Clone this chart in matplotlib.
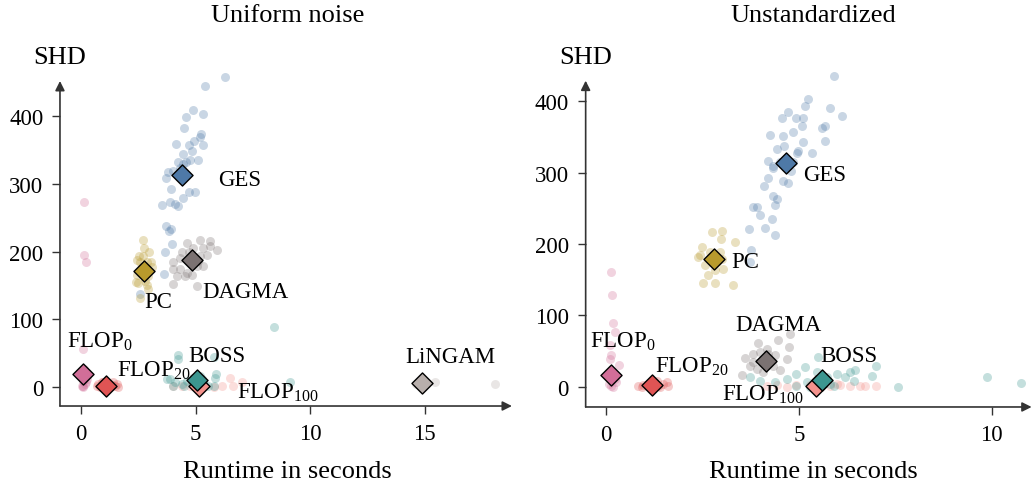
import matplotlib
matplotlib.use("Agg")
import matplotlib.pyplot as plt

plt.rcParams["font.family"] = ["Liberation Serif", "DejaVu Serif"]
plt.rcParams["mathtext.fontset"] = "custom"
plt.rcParams["mathtext.rm"] = "Liberation Serif"

# ---------- 数据：Uniform noise ----------
uni_ges_x = [6.26, 5.39, 4.88, 5.33, 4.56, 4.47, 4.13, 5.24, 5.17, 4.92, 4.70, 5.30, 4.44, 4.85,
             4.21, 4.59, 4.77, 5.11, 3.80, 4.03, 4.32, 4.45, 3.71, 3.94, 4.72, 4.98, 4.45, 3.52,
             3.89, 4.10, 4.25, 3.71, 3.93, 3.83, 3.97, 3.65, 3.61, 2.56]
uni_ges_y = [458, 445, 409, 403, 399, 383, 359, 374, 370, 363, 358, 357, 344, 348,
             333, 333, 335, 335, 318, 319, 323, 329, 309, 293, 288, 288, 279, 269,
             273, 270, 267, 238, 233, 230, 211, 200, 167, 138]
uni_pc_x = [2.72, 2.75, 2.97, 2.43, 2.58, 2.87, 2.65, 3.09, 2.43, 2.94, 2.79, 2.50, 2.87, 2.94,
            2.58, 2.40, 2.72, 2.52, 3.04]
uni_pc_y = [217, 206, 199, 188, 184, 184, 177, 177, 165, 164, 157, 154, 150, 145,
            132, 155, 194, 194, 184]
uni_dagma_x = [5.20, 5.63, 4.61, 4.40, 4.90, 5.34, 5.92, 5.63, 4.32, 5.20, 5.49, 4.03, 4.32, 4.61,
               5.05, 5.34, 4.18, 4.54, 4.83, 4.03, 5.05, 4.00, 4.69, 5.12]
uni_dagma_y = [217, 216, 213, 200, 206, 206, 203, 209, 191, 194, 195, 174, 174, 169,
               179, 179, 164, 164, 165, 152, 149, 184, 199, 186]
uni_flop0_x = [0.15, 0.15, 0.20, 0.10, 0.03, 0.10, 0.17, 0.07, 0.22, 0.13, 0.03, 0.28, 0.10]
uni_flop0_y = [274, 195, 184, 56, 2, 0, 4, 9, 7, 27, 19, 12, 1]
uni_flop20_x = [0.76, 0.90, 1.05, 1.19, 1.34, 1.48, 1.63, 0.83, 1.12, 1.41, 0.97, 1.27, 1.56, 0.69]
uni_flop20_y = [4, 7, 2, 6, 3, 1, 0.5, 0.5, 0, 7, 8, 0, 4, 2]
uni_flop100_x = [6.51, 7.02, 6.65, 6.14, 4.03, 4.40, 4.76, 5.34, 5.05, 5.78]
uni_flop100_y = [13, 7, 1, 1, 1, 1, 1, 1, 4, 0]
uni_boss_x = [4.25, 4.25, 5.78, 5.90, 5.85, 5.20, 3.89, 4.10, 4.40, 4.61, 4.83, 5.05, 5.34, 5.56,
              5.78, 4.03, 3.74, 8.40, 9.13, 5.27, 4.47, 4.90]
uni_boss_y = [47, 41, 44, 19, 14, 17, 12, 7, 4, 9, 7, 2, 7, 2,
              2, 2, 12, 89, 7, 12, 2, 14]
uni_lingam_x = [14.6, 15.46, 18.08]
uni_lingam_y = [5, 7, 4]

# 菱形（中心值）
uni_mean_x = {"GES": 4.42, "PC": 2.76, "DAGMA": 4.86, "FLOP0": 0.10, "FLOP20": 1.09,
              "FLOP100": 5.15, "BOSS": 5.05, "LiNGAM": 14.88}
uni_mean_y = {"GES": 313, "PC": 172, "DAGMA": 188, "FLOP0": 20, "FLOP20": 2,
              "FLOP100": 1, "BOSS": 10, "LiNGAM": 6}

# ---------- 数据：Unstandardized ----------
uns_ges_x = [5.92, 5.23, 5.16, 5.81, 6.11, 4.56, 4.73, 4.94, 5.12, 5.59, 5.68, 5.07, 4.25, 4.60,
             4.86, 5.68, 5.12, 4.43, 4.62, 4.99, 4.96, 5.33, 4.19, 4.34, 4.51, 4.86, 4.79, 4.32,
             4.21, 4.10, 4.60, 4.73, 4.34, 4.43, 4.38, 3.82, 3.92, 3.99, 4.31, 4.12, 4.38, 3.71,
             3.76, 3.73]
uns_ges_y = [436, 404, 394, 391, 380, 377, 385, 377, 377, 362, 365, 366, 353, 351,
             357, 344, 343, 333, 338, 331, 328, 327, 316, 310, 315, 315, 302, 306,
             292, 282, 289, 285, 268, 263, 255, 252, 252, 241, 235, 222, 212, 221,
             192, 175]
uns_pc_x = [2.74, 3.00, 2.98, 2.48, 2.43, 2.69, 2.87, 2.95, 2.56, 2.82, 3.04, 2.52, 2.82, 3.30,
            3.34, 2.65, 2.39, 3.00]
uns_pc_y = [217, 218, 207, 196, 184, 189, 175, 189, 170, 163, 165, 146, 146, 142,
            203, 156, 182, 179]
uns_dagma_x = [3.95, 4.47, 4.77, 4.75, 3.60, 3.82, 3.99, 4.21, 4.38, 4.69, 3.73, 3.91, 4.34, 4.51,
               3.52, 4.08, 4.17, 3.82]
uns_dagma_y = [61, 66, 74, 55, 40, 46, 48, 46, 44, 39, 29, 25, 29, 24,
               16, 20, 53, 34]
uns_flop0_x = [0.14, 0.16, 0.18, 0.24, 0.11, 0.14, 0.11, 0.34, 0.05, 0.23, 0.14, 0.08, 0.27, 0.18]
uns_flop0_y = [161, 129, 89, 76, 58, 44, 39, 30, 15, 11, 1, 4, 6, 0]
uns_flop20_x = [0.83, 0.96, 1.09, 1.22, 1.35, 1.48, 1.61, 0.92, 1.13, 1.39, 1.57, 1.31]
uns_flop20_y = [0.5, 2.4, 3.8, 6, 1.4, 3.8, 0.5, 0, 0, 0, 6, 8]
uns_flop100_x = [4.17, 4.43, 4.69, 4.94, 5.29, 5.55, 5.81, 6.07, 6.33, 6.59, 6.72, 7.01, 5.98]
uns_flop100_y = [1, 2, 0, 2, 2, 0, 1, 2, 1, 0.5, 1, 1, 4]
uns_boss_x = [3.73, 3.99, 4.38, 4.69, 4.94, 5.16, 5.21, 5.51, 5.46, 5.72, 5.98, 6.20, 6.33, 6.46,
              6.89, 7.01, 7.58, 9.88, 10.76, 5.90, 4.94, 5.29, 6.42, 5.81]
uns_boss_y = [13, 8, 6, 11, 18, 27, 6, 41, 20, 13, 18, 13, 20, 24,
              15, 29, 0, 14, 5, 1, 1, 0, 8, 4]

uns_mean_x = {"GES": 4.66, "PC": 2.80, "DAGMA": 4.15, "FLOP0": 0.13, "FLOP20": 1.20,
              "FLOP100": 5.45, "BOSS": 5.59}
uns_mean_y = {"GES": 314, "PC": 179, "DAGMA": 36, "FLOP0": 16, "FLOP20": 2,
              "FLOP100": 1, "BOSS": 10}

颜色 = {"GES": "#4e79a7", "PC": "#b89a2c", "DAGMA": "#7b7272", "FLOP0": "#d16e98",
       "FLOP20": "#e05454", "FLOP100": "#f4928c", "BOSS": "#3c9690", "LiNGAM": "#b8afac"}

标签名 = {"GES": "GES", "PC": "PC", "DAGMA": "DAGMA", "FLOP0": r"FLOP$_{\mathrm{0}}$",
       "FLOP20": r"FLOP$_{\mathrm{20}}$", "FLOP100": r"FLOP$_{\mathrm{100}}$",
       "BOSS": "BOSS", "LiNGAM": "LiNGAM"}

# 标签位置（左对齐，垂直居中）
uni_label_pos = {"GES": (6.0, 307), "PC": (2.75, 126), "DAGMA": (5.27, 141),
                 "FLOP0": (-0.63, 68), "FLOP20": (1.59, 26), "BOSS": (4.69, 47),
                 "FLOP100": (6.8, -7), "LiNGAM": (14.15, 45)}
uns_label_pos = {"GES": (5.1, 298), "PC": (3.26, 176), "DAGMA": (3.34, 87),
                 "FLOP0": (-0.41, 65), "FLOP20": (1.26, 30), "BOSS": (5.55, 44),
                 "FLOP100": (3.0, -10)}

uni_points = {"GES": (uni_ges_x, uni_ges_y), "PC": (uni_pc_x, uni_pc_y),
              "DAGMA": (uni_dagma_x, uni_dagma_y), "FLOP0": (uni_flop0_x, uni_flop0_y),
              "FLOP20": (uni_flop20_x, uni_flop20_y), "FLOP100": (uni_flop100_x, uni_flop100_y),
              "BOSS": (uni_boss_x, uni_boss_y), "LiNGAM": (uni_lingam_x, uni_lingam_y)}
uns_points = {"GES": (uns_ges_x, uns_ges_y), "PC": (uns_pc_x, uns_pc_y),
              "DAGMA": (uns_dagma_x, uns_dagma_y), "FLOP0": (uns_flop0_x, uns_flop0_y),
              "FLOP20": (uns_flop20_x, uns_flop20_y), "FLOP100": (uns_flop100_x, uns_flop100_y),
              "BOSS": (uns_boss_x, uns_boss_y)}

轴色 = "#333333"


def 画面板(ax, 点, 均值x, 均值y, 标签位置, xlim, ylim, xticks):
    for k, (xs, ys) in 点.items():
        ax.scatter(xs, ys, s=42, color=颜色[k], alpha=0.3, linewidths=0, zorder=2,
                   clip_on=False)
    for k in 点:
        ax.scatter([均值x[k]], [均值y[k]], s=115, marker="D", color=颜色[k],
                   edgecolors="black", linewidths=1.0, zorder=4, clip_on=False)
    for k, (tx, ty) in 标签位置.items():
        ax.text(tx, ty, 标签名[k], fontsize=16.5, ha="left", va="center", zorder=5)

    ax.set_xlim(*xlim)
    ax.set_ylim(*ylim)
    ax.set_xticks(xticks)
    ax.set_yticks([0, 100, 200, 300, 400])
    for s in ["top", "right", "left", "bottom"]:
        ax.spines[s].set_visible(False)
    ax.tick_params(direction="out", length=6, width=1, color=轴色, labelsize=16.5, pad=6)
    # 带箭头的坐标轴
    ax.annotate("", xy=(1, 0), xytext=(0, 0), xycoords="axes fraction",
                arrowprops=dict(arrowstyle="-|>", color=轴色, lw=1.2, mutation_scale=14,
                                shrinkA=0, shrinkB=0), annotation_clip=False)
    ax.annotate("", xy=(0, 1), xytext=(0, 0), xycoords="axes fraction",
                arrowprops=dict(arrowstyle="-|>", color=轴色, lw=1.2, mutation_scale=14,
                                shrinkA=0, shrinkB=0), annotation_clip=False)


fig = plt.figure(figsize=(10.34, 4.85), dpi=100)
ax1 = fig.add_axes([0.0580, 0.1608, 0.4371, 0.6701])
ax2 = fig.add_axes([0.5664, 0.1588, 0.4313, 0.6728])

画面板(ax1, uni_points, uni_mean_x, uni_mean_y, uni_label_pos,
     (-0.92, 18.8), (-28, 452), [0, 5, 10, 15])
画面板(ax2, uns_points, uns_mean_x, uns_mean_y, uns_label_pos,
     (-0.53, 11.04), (-28.5, 429), [0, 5, 10])

fig.text(288 / 1034, 1 - 16 / 485, "Uniform noise", fontsize=19, ha="center", va="center")
fig.text(813 / 1034, 1 - 16 / 485, "Unstandardized", fontsize=19, ha="center", va="center")
fig.text(60 / 1034, 1 - 58 / 485, "SHD", fontsize=19, ha="center", va="center")
fig.text(586 / 1034, 1 - 58 / 485, "SHD", fontsize=19, ha="center", va="center")
fig.text(287 / 1034, 1 - 472 / 485, "Runtime in seconds", fontsize=19, ha="center", va="center")
fig.text(813 / 1034, 1 - 472 / 485, "Runtime in seconds", fontsize=19, ha="center", va="center")

fig.savefig("out.png", dpi=100)
